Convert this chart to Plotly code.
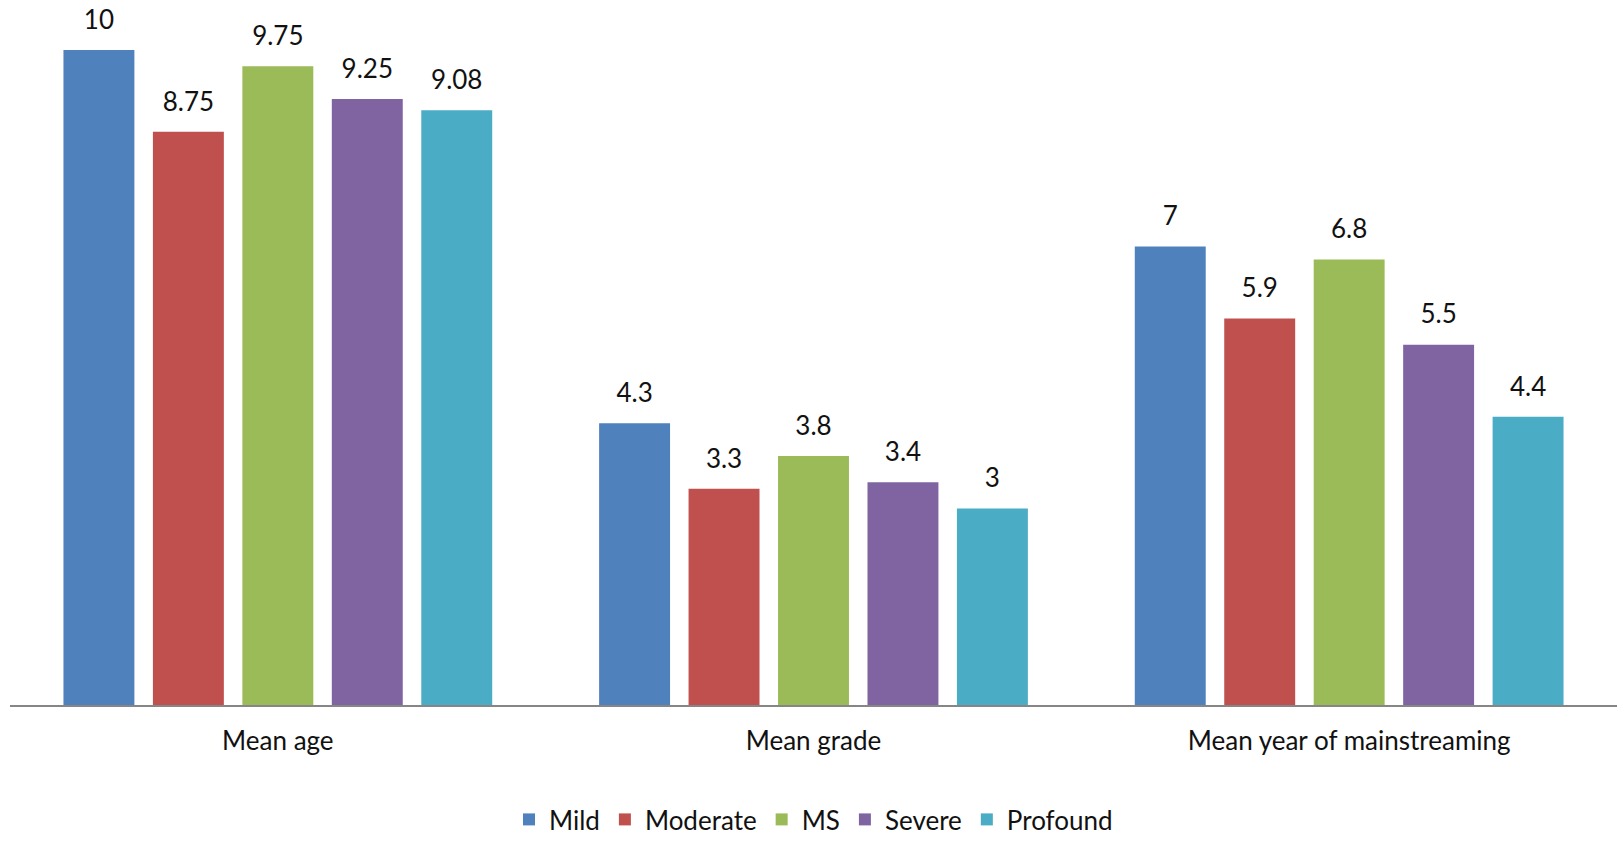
import plotly.graph_objects as go

categories = ["Mean age", "Mean grade", "Mean year of mainstreaming"]
series_names = ["Mild", "Moderate", "MS", "Severe", "Profound"]
mild = [10, 4.3, 7]
moderate = [8.75, 3.3, 5.9]
ms = [9.75, 3.8, 6.8]
severe = [9.25, 3.4, 5.5]
profound = [9.08, 3, 4.4]
values = [mild, moderate, ms, severe, profound]
colors = ["#4F81BD", "#C0504D", "#9BBB59", "#8064A2", "#4BACC6"]

FONT = "Lato"
FS = 26
fig = go.Figure()
for name, vals, col in zip(series_names, values, colors):
    fig.add_trace(go.Bar(
        x=categories, y=vals, name=name,
        marker=dict(color=col, line=dict(width=0)),
        hoverinfo="skip",
    ))
for name, vals, col in zip(series_names, values, colors):
    fig.add_trace(go.Scatter(
        x=categories, y=vals, mode="markers+text",
        text=[f"{v:g}" for v in vals], textposition="top center",
        textfont=dict(family=FONT, size=FS, color="#111111"),
        marker=dict(size=22, opacity=0),
        showlegend=False, hoverinfo="skip", cliponaxis=False,
    ))

fig.update_layout(
    width=1621, height=843,
    margin=dict(l=10, r=4, t=10, b=138, autoexpand=False),
    paper_bgcolor="white", plot_bgcolor="white",
    barmode="group", bargap=0.165, bargroupgap=0.207,
    scattermode="group", scattergap=0.165,
    font=dict(family=FONT, size=FS, color="#111111"),
    showlegend=True,
    legend=dict(orientation="h", x=0.5, xanchor="center",
                yref="container", y=-0.005, yanchor="bottom",
                font=dict(family=FONT, size=FS, color="#111111"), itemwidth=30,
                traceorder="normal", bgcolor="rgba(0,0,0,0)"),
    xaxis=dict(showline=True, linecolor="#868686", linewidth=1.5, ticks="",
               showgrid=False, tickfont=dict(family=FONT, size=FS), ticklabelstandoff=12),
    yaxis=dict(range=[0, 10.61], visible=False, showgrid=False, zeroline=False),
)
fig.write_html("out.html")
